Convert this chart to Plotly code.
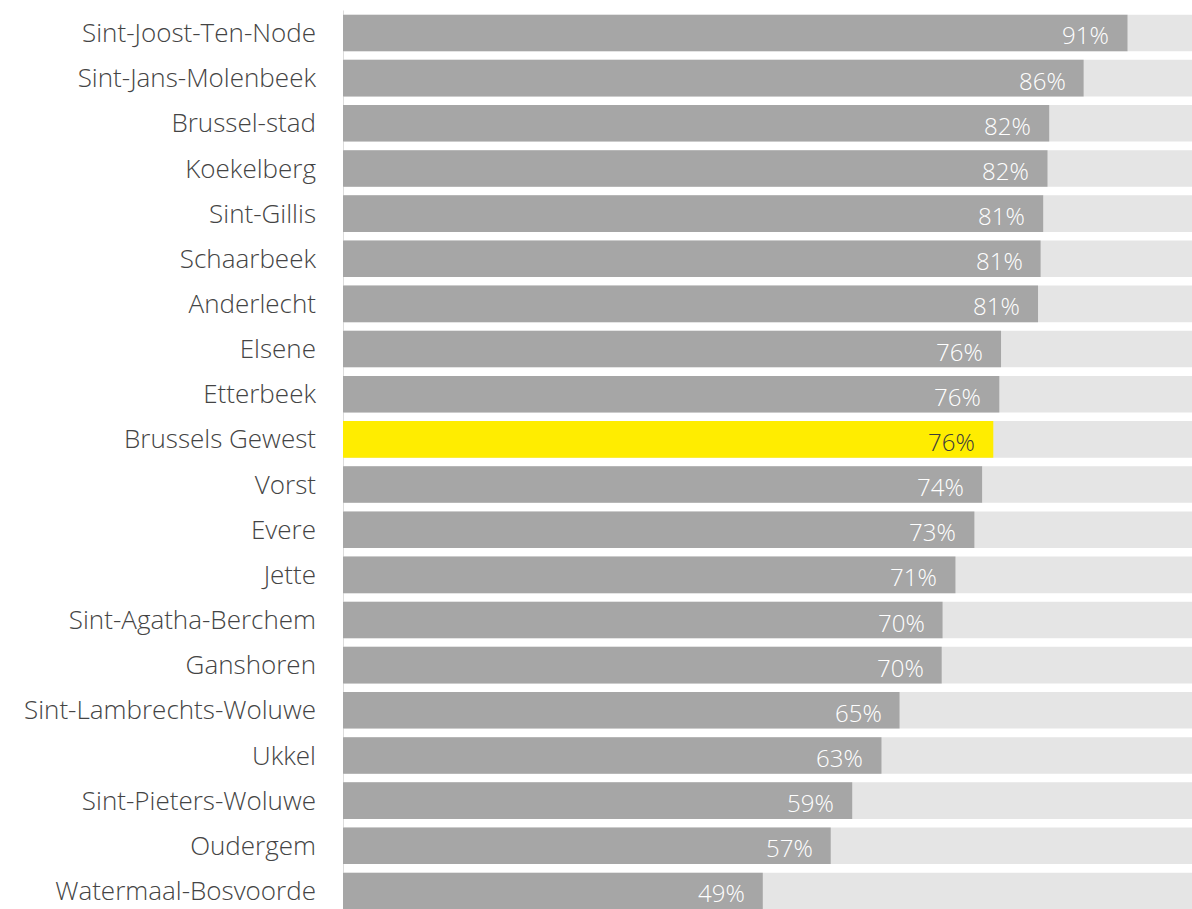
import plotly.graph_objects as go

municipalities = [
    "Sint-Joost-Ten-Node", "Sint-Jans-Molenbeek", "Brussel-stad", "Koekelberg",
    "Sint-Gillis", "Schaarbeek", "Anderlecht", "Elsene", "Etterbeek",
    "Brussels Gewest", "Vorst", "Evere", "Jette", "Sint-Agatha-Berchem",
    "Ganshoren", "Sint-Lambrechts-Woluwe", "Ukkel", "Sint-Pieters-Woluwe",
    "Oudergem", "Watermaal-Bosvoorde",
]
values = [91.2, 86.1, 82.1, 81.9, 81.4, 81.1, 80.8, 76.5, 76.3, 75.6,
          74.3, 73.4, 71.2, 69.7, 69.6, 64.7, 62.6, 59.2, 56.7, 48.8]
value_labels = ["91%", "86%", "82%", "82%", "81%", "81%", "81%", "76%", "76%", "76%",
                "74%", "73%", "71%", "70%", "70%", "65%", "63%", "59%", "57%", "49%"]
highlight = "Brussels Gewest"
total = [100] * len(municipalities)

positions = list(range(len(municipalities)))
bar_colors = ["#ffed00" if m == highlight else "#a6a6a6" for m in municipalities]
text_colors = ["#3c3c3c" if m == highlight else "#ffffff" for m in municipalities]

FONT = "Open Sans"

fig = go.Figure()
fig.add_trace(go.Bar(
    y=positions, x=total, orientation="h", width=0.81,
    marker=dict(color="#e5e5e5", line=dict(width=0)),
    hoverinfo="skip", showlegend=False,
))
fig.add_trace(go.Bar(
    y=positions, x=values, orientation="h", width=0.81,
    marker=dict(color=bar_colors, line=dict(width=0)),
    showlegend=False,
))

for p, v, lab, c in zip(positions, values, value_labels, text_colors):
    fig.add_annotation(
        x=v, y=p, xref="x", yref="y", text=lab, showarrow=False,
        xanchor="right", yanchor="middle", xshift=-16, yshift=-2,
        font=dict(family=FONT, size=24, color=c, weight=300),
    )

fig.add_shape(type="line", xref="x", yref="y", x0=0, x1=0, y0=-0.5, y1=19.6,
              line=dict(color="#dcdcdc", width=2), layer="below")

fig.update_layout(
    width=1192, height=909,
    margin=dict(l=343, r=0, t=0, b=0),
    barmode="overlay",
    plot_bgcolor="white", paper_bgcolor="white",
    xaxis=dict(range=[0, 98.7], showgrid=False, zeroline=False,
               showticklabels=False, showline=False, fixedrange=True),
    yaxis=dict(range=[19.4, -0.73], tickmode="array", tickvals=positions,
               ticktext=municipalities, showgrid=False, zeroline=False,
               showline=False, ticks="", ticklabelstandoff=26,
               tickfont=dict(family=FONT, size=26, color="#444444", weight=300)),
)

fig.write_html(
    "out.html",
    config={"displayModeBar": False},
    post_script="document.body.style.margin='0';document.body.style.overflow='hidden';",
)
